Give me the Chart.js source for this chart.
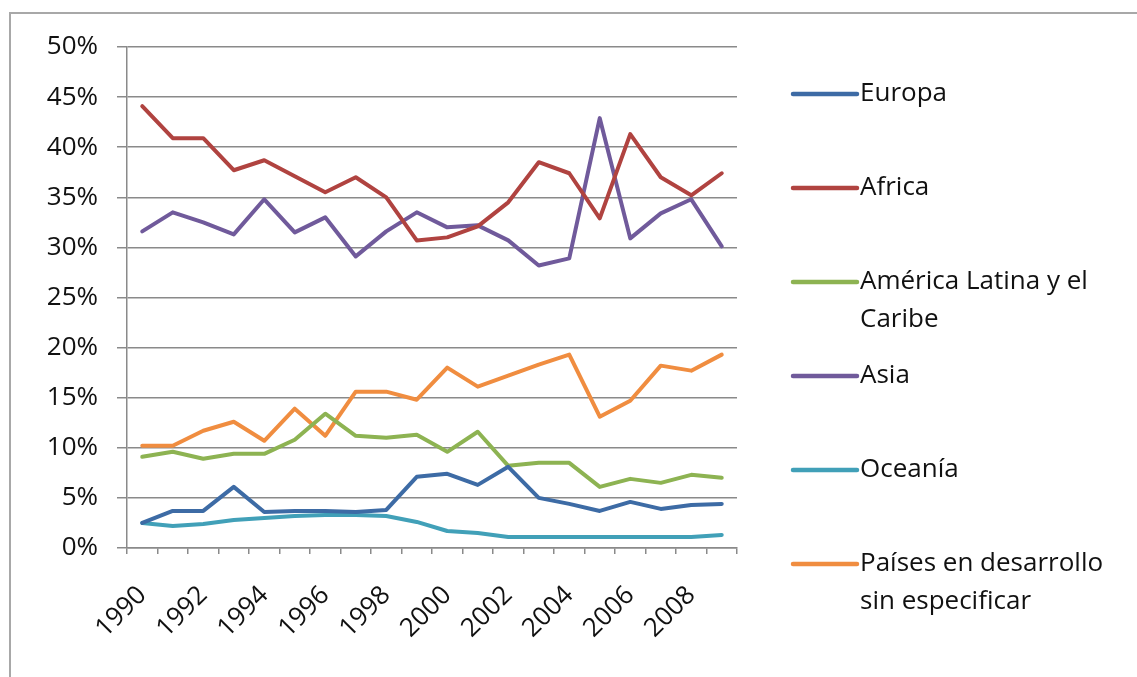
<!DOCTYPE html>
<html>
<head>
<meta charset="utf-8">
<script src="https://cdn.jsdelivr.net/npm/chart.js@4.4.0/dist/chart.umd.min.js"></script>
<style>
  html, body { margin: 0; padding: 0; background: #fff; overflow: hidden; }
  #wrap { position: relative; width: 1137px; height: 677px; }
  #frame { position: absolute; left: 9px; top: 12px; right: -10px; bottom: -10px; border: 2px solid #a8a8a8; }
  #chart { position: absolute; left: 0; top: 0; }
</style>
</head>
<body>
<div id="wrap">
  <div id="frame"></div>
  <canvas id="chart" width="1137" height="677"></canvas>
</div>
<script>
const years = ['1990','1991','1992','1993','1994','1995','1996','1997','1998','1999',
               '2000','2001','2002','2003','2004','2005','2006','2007','2008','2009'];

const seriesNames = ['Europa', 'Africa', 'América Latina y el Caribe', 'Asia', 'Oceanía',
                     'Países en desarrollo sin especificar'];
const seriesColors = ['#3d6ba5', '#b04340', '#8db352', '#705a9b', '#41a0b8', '#f08d40'];

const europa  = [2.5, 3.7, 3.7, 6.1, 3.6, 3.7, 3.7, 3.6, 3.8, 7.1, 7.4, 6.3, 8.1, 5.0, 4.4, 3.7, 4.6, 3.9, 4.3, 4.4];
const africa  = [44.1, 40.9, 40.9, 37.7, 38.7, 37.1, 35.5, 37.0, 35.0, 30.7, 31.0, 32.1, 34.5, 38.5, 37.4, 32.9, 41.3, 37.0, 35.2, 37.4];
const america = [9.1, 9.6, 8.9, 9.4, 9.4, 10.8, 13.4, 11.2, 11.0, 11.3, 9.6, 11.6, 8.2, 8.5, 8.5, 6.1, 6.9, 6.5, 7.3, 7.0];
const asia    = [31.6, 33.5, 32.5, 31.3, 34.8, 31.5, 33.0, 29.1, 31.6, 33.5, 32.0, 32.2, 30.7, 28.2, 28.9, 42.9, 30.9, 33.4, 34.8, 30.1];
const oceania = [2.5, 2.2, 2.4, 2.8, 3.0, 3.2, 3.3, 3.3, 3.2, 2.6, 1.7, 1.5, 1.1, 1.1, 1.1, 1.1, 1.1, 1.1, 1.1, 1.3];
const paises  = [10.2, 10.2, 11.7, 12.6, 10.7, 13.9, 11.2, 15.6, 15.6, 14.8, 18.0, 16.1, 17.2, 18.3, 19.3, 13.1, 14.7, 18.2, 17.7, 19.3];

const seriesData = [europa, africa, america, asia, oceania, paises];

const FONT = '"Open Sans", "Liberation Sans", sans-serif';
const TEXT = '#111';
const GRID = '#8a8a8a';

// legend on the right, one entry every 94px, long names wrapped
const sideLegend = {
  id: 'sideLegend',
  afterDraw(chart) {
    const ctx = chart.ctx;
    ctx.save();
    ctx.font = '26px ' + FONT;
    ctx.textBaseline = 'middle';
    ctx.textAlign = 'left';
    chart.data.datasets.forEach((ds, i) => {
      const y = 94 + i * 94;
      ctx.strokeStyle = ds.borderColor;
      ctx.lineWidth = 4.5;
      ctx.lineCap = 'round';
      ctx.beginPath();
      ctx.moveTo(793, y);
      ctx.lineTo(857, y);
      ctx.stroke();

      // wrap
      const words = ds.label.split(' ');
      const lines = [];
      let cur = '';
      words.forEach(w => {
        const test = cur ? cur + ' ' + w : w;
        if (ctx.measureText(test).width > 265 && cur) {
          lines.push(cur);
          cur = w;
        } else {
          cur = test;
        }
      });
      lines.push(cur);
      ctx.fillStyle = TEXT;
      lines.forEach((t, j) => ctx.fillText(t, 860, y + j * 38));
    });
    ctx.restore();
  }
};

new Chart(document.getElementById('chart'), {
  type: 'line',
  data: {
    labels: years,
    datasets: seriesNames.map((name, i) => ({
      label: name,
      data: seriesData[i],
      borderColor: seriesColors[i],
      backgroundColor: seriesColors[i],
      borderWidth: 4,
      pointRadius: 0,
      tension: 0,
      borderJoinStyle: 'round',
      borderCapStyle: 'round'
    }))
  },
  options: {
    responsive: false,
    animation: false,
    layout: { padding: { left: 0, top: 47, right: 400, bottom: 0 } },
    plugins: {
      legend: { display: false },
      tooltip: { enabled: false }
    },
    scales: {
      x: {
        offset: true,
        afterFit: scale => { scale.height = 129; },
        grid: {
          offset: true,
          drawOnChartArea: false,
          drawTicks: true,
          tickLength: 6,
          color: GRID,
          lineWidth: 1.5
        },
        border: { color: GRID, width: 1.5 },
        ticks: {
          autoSkip: false,
          minRotation: 45,
          maxRotation: 45,
          padding: 26,
          color: TEXT,
          font: { family: FONT, size: 26 },
          callback: (v, i) => (i % 2 === 0 ? years[i] : '')
        }
      },
      y: {
        min: 0,
        max: 50,
        afterFit: scale => { scale.width = 127; },
        grid: {
          color: GRID,
          lineWidth: 1.5,
          tickLength: 10
        },
        border: { color: GRID, width: 1.5 },
        ticks: {
          stepSize: 5,
          padding: 19,
          color: TEXT,
          font: { family: FONT, size: 26 },
          callback: v => v + '%'
        }
      }
    }
  },
  plugins: [sideLegend]
});
</script>
</body>
</html>
